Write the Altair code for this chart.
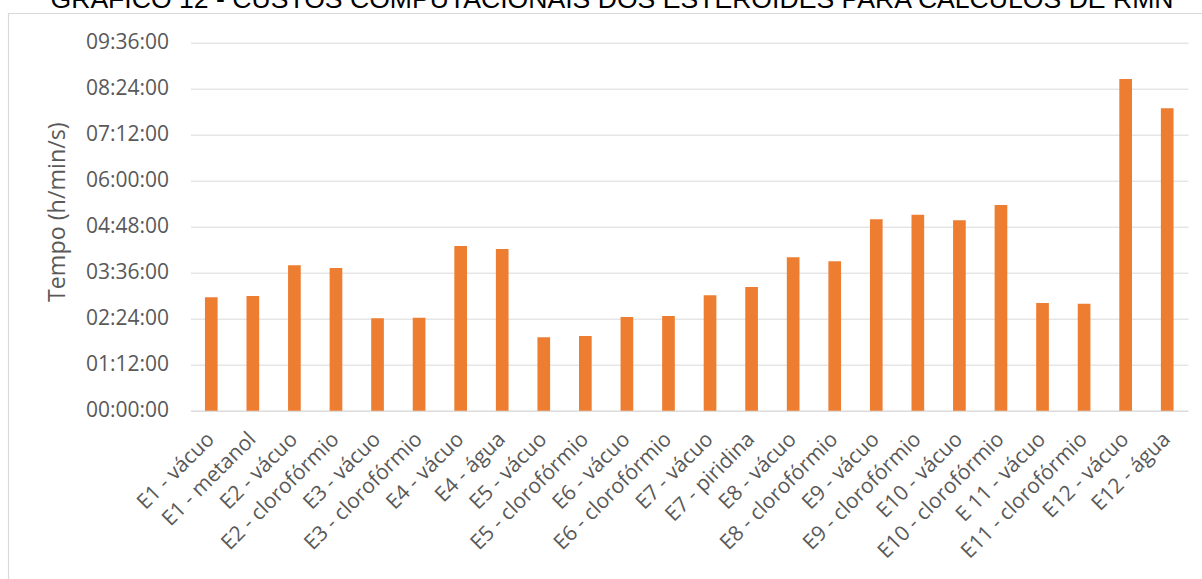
import altair as alt
import pandas as pd

# Structures / solvent combinations on the x axis
estruturas = [
    "E1 - vácuo", "E1 - metanol", "E2 - vácuo", "E2 - clorofórmio",
    "E3 - vácuo", "E3 - clorofórmio", "E4 - vácuo", "E4 - água",
    "E5 - vácuo", "E5 - clorofórmio", "E6 - vácuo", "E6 - clorofórmio",
    "E7 - vácuo", "E7 - piridina", "E8 - vácuo", "E8 - clorofórmio",
    "E9 - vácuo", "E9 - clorofórmio", "E10 - vácuo", "E10 - clorofórmio",
    "E 11 - vácuo", "E11 - clorofórmio", "E12 - vácuo", "E12 - água",
]

# Computational time of each NMR calculation (h:mm:ss)
tempos = [
    "02:57:30", "02:59:30", "03:47:30", "03:43:20",
    "02:24:40", "02:25:40", "04:17:50", "04:13:00",
    "01:55:00", "01:57:00", "02:26:40", "02:28:10",
    "03:00:40", "03:13:40", "04:00:10", "03:53:50",
    "04:59:40", "05:06:50", "04:58:00", "05:22:00",
    "02:48:40", "02:47:30", "08:39:10", "07:53:20",
]

# Y axis tick labels
marcas_y = [
    "00:00:00", "01:12:00", "02:24:00", "03:36:00", "04:48:00",
    "06:00:00", "07:12:00", "08:24:00", "09:36:00",
]

titulo = "GRÁFICO 12 - CUSTOS COMPUTACIONAIS DOS ESTERÓIDES PARA CÁLCULOS DE RMN"


def em_segundos(t):
    h, m, s = (int(p) for p in t.split(":"))
    return h * 3600 + m * 60 + s


df = pd.DataFrame({"Estrutura": estruturas, "Tempo": [em_segundos(t) for t in tempos]})
valores_y = [em_segundos(t) for t in marcas_y]

LEFT, TOP = 190.5, 42.7
W, H = 997.5, 368.0
RIGHT = 1202 - LEFT - W
BOTTOM = 579 - TOP - H

GRID = "#d9d9d9"
TXT = "#595959"
FONT = "Open Sans"

one = pd.DataFrame({"k": [0]})

# Outer chart frame
moldura = alt.Chart(one).mark_rect(fill=None, stroke=GRID, strokeWidth=1.2).encode(
    x=alt.value(8.5 - LEFT),
    y=alt.value(13.5 - TOP),
    x2=alt.value(1202 - LEFT + 20),
    y2=alt.value(579 - TOP + 20),
)

barras = alt.Chart(df).mark_bar(color="#ED7D31").encode(
    x=alt.X(
        "Estrutura:N",
        sort=estruturas,
        title=None,
        scale=alt.Scale(paddingInner=0.695, paddingOuter=0.3475),
        axis=alt.Axis(
            labelAngle=-45,
            labelAlign="right",
            labelBaseline="middle",
            labelPadding=25,
            ticks=False,
            tickSize=0,
            domainColor=GRID,
            domainWidth=1,
            labelFont=FONT,
            labelFontSize=21,
            labelColor=TXT,
            grid=False,
        ),
    ),
    y=alt.Y(
        "Tempo:Q",
        scale=alt.Scale(domain=[0, valores_y[-1]], nice=False, zero=True),
        axis=alt.Axis(
            values=valores_y,
            labelExpr="utcFormat(datum.value * 1000, '%H:%M:%S')",
            grid=True,
            gridColor=GRID,
            gridWidth=1,
            domain=False,
            ticks=False,
            tickSize=0,
            labelPadding=22,
            labelFont=FONT,
            labelFontSize=21,
            labelColor=TXT,
            title="Tempo (h/min/s)",
            titleFont=FONT,
            titleFontSize=23.3,
            titleFontWeight="normal",
            titleColor=TXT,
            titleAngle=270,
            titleAlign="center",
            titleBaseline="middle",
            titleX=-133,
            titleY=169,
        ),
    ),
)

cabecalho = alt.Chart(one).mark_text(
    text=titulo,
    font="Liberation Sans",
    fontSize=26.6,
    align="center",
    baseline="alphabetic",
    color="#000000",
).encode(x=alt.value(612 - LEFT), y=alt.value(7.5 - TOP))

chart = (
    alt.layer(moldura, barras, cabecalho)
    .properties(
        width=W,
        height=H,
        padding={"left": LEFT, "top": TOP, "right": RIGHT, "bottom": BOTTOM},
        autosize=alt.AutoSizeParams(type="none"),
        background="white",
    )
    .configure_view(stroke=None)
)

chart.save("out.html", embed_options={"renderer": "svg", "actions": False})
